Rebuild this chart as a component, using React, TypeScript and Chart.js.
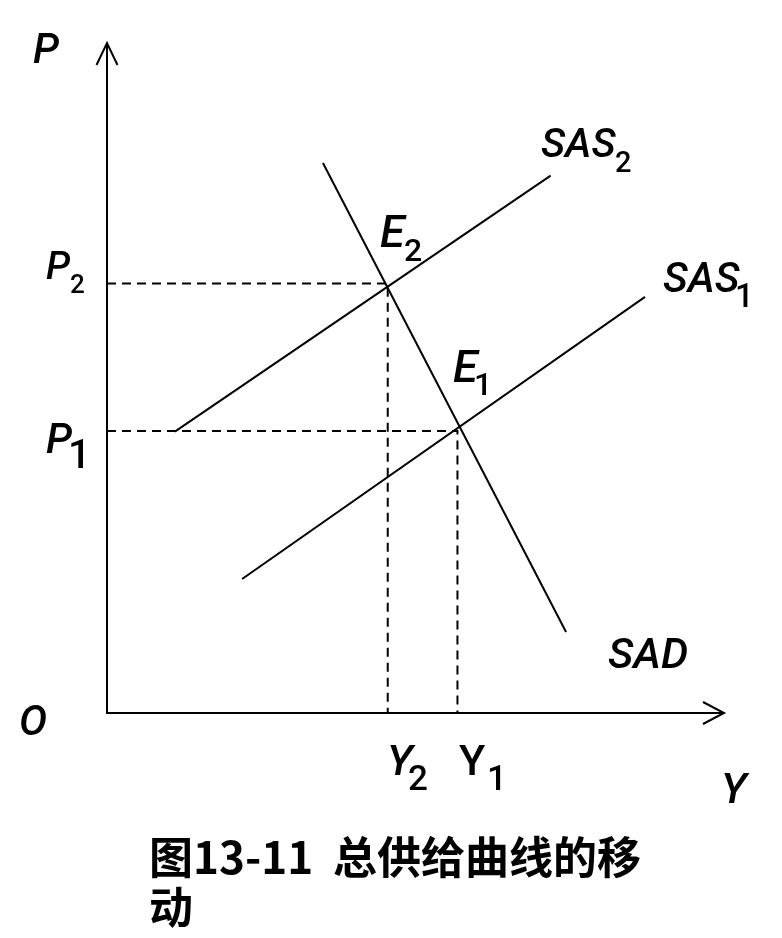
import React, { useEffect, useRef } from "react";
import { Chart, registerables } from "chart.js";

Chart.register(...registerables);

// Equilibrium levels (arbitrary units, axes run 0..100)
const P_LEVELS = [42.1, 64.1]; // P1, P2
const Y_LEVELS = [56.8, 45.5]; // Y1, Y2

// Curve endpoints [x, y]
const SAS1_X = [21.9, 87.2];
const SAS1_Y = [20.0, 62.1];
const SAS2_X = [11.0, 71.9];
const SAS2_Y = [42.0, 80.2];
const SAD_X = [35.0, 74.4];
const SAD_Y = [82.1, 12.1];

const TITLE = "图13-11  总供给曲线的移动";

const pts = (xs: number[], ys: number[]) => xs.map((x, i) => ({ x, y: ys[i] }));

const FONT = 'Roboto, "Liberation Sans", Arial, sans-serif';

const labelPlugin = {
  id: "econLabels",
  afterDatasetsDraw(chart: any) {
    const { ctx, chartArea } = chart;
    const { left, right, top, bottom } = chartArea;
    ctx.save();
    ctx.strokeStyle = "#000";
    ctx.lineWidth = 2;
    // axes
    ctx.beginPath();
    ctx.moveTo(left, top);
    ctx.lineTo(left, bottom);
    ctx.lineTo(right, bottom);
    ctx.stroke();
    // arrowheads
    ctx.beginPath();
    ctx.moveTo(left - 10.5, top + 22);
    ctx.lineTo(left, top);
    ctx.lineTo(left + 10.5, top + 22);
    ctx.moveTo(right - 21, bottom - 11);
    ctx.lineTo(right, bottom);
    ctx.lineTo(right - 21, bottom + 11);
    ctx.stroke();

    const o = 8;
    const txt = (s: string, x: number, y: number, size: number, italic: boolean) => {
      ctx.font = `${italic ? "italic " : ""}500 ${size}px ${FONT}`;
      ctx.fillStyle = "#000";
      ctx.textBaseline = "alphabetic";
      ctx.textAlign = "left";
      ctx.fillText(s, x - o, y - o);
    };
    txt("P", 33, 63, 42, true);
    txt("P", 46, 279, 39, true);
    txt("2", 70, 293, 26, false);
    txt("P", 46, 453, 42, true);
    txt("1", 68, 468, 40, false);
    txt("E", 380, 247, 45, true);
    txt("2", 404, 261, 32, false);
    txt("E", 453, 382, 45, true);
    txt("1", 474, 395, 32, false);
    txt("SAS", 541, 157, 41, true);
    txt("2", 615, 172, 29, false);
    txt("SAS", 663, 292, 42, true);
    txt("1", 735, 307, 33, false);
    txt("SAD", 608, 668, 43, true);
    txt("O", 19, 735, 42, true);
    txt("Y", 387, 775, 43, true);
    txt("2", 408, 790, 35, false);
    txt("Y", 459, 775, 43, false);
    txt("1", 487, 790, 35, false);
    txt("Y", 721, 803, 43, true);
    ctx.restore();
  },
};

export default function App() {
  const ref = useRef<HTMLCanvasElement | null>(null);
  useEffect(() => {
    if (!ref.current) return;
    const solid = { borderColor: "#000", borderWidth: 2, pointRadius: 0, showLine: true, fill: false };
    const dashed = { ...solid, borderDash: [9, 6] };
    const [p1, p2] = P_LEVELS;
    const [y1, y2] = Y_LEVELS;
    const chart = new Chart(ref.current, {
      type: "scatter",
      data: {
        datasets: [
          { ...dashed, data: [{ x: 0, y: p2 }, { x: y2, y: p2 }, { x: y2, y: 0 }] },
          { ...dashed, data: [{ x: 0, y: p1 }, { x: y1, y: p1 }, { x: y1, y: 0 }] },
          { ...solid, data: pts(SAS2_X, SAS2_Y) },
          { ...solid, data: pts(SAS1_X, SAS1_Y) },
          { ...solid, data: pts(SAD_X, SAD_Y) },
        ] as any,
      },
      options: {
        animation: false,
        responsive: false,
        layout: { padding: { left: 99, right: 50, top: 35, bottom: 117 } },
        scales: {
          x: { type: "linear", min: 0, max: 100, display: false },
          y: { type: "linear", min: 0, max: 100, display: false },
        },
        plugins: { legend: { display: false }, tooltip: { enabled: false } },
        elements: { line: { tension: 0 } },
      },
      plugins: [labelPlugin],
    });
    return () => chart.destroy();
  }, []);
  return (
    <div style={{ width: 766 }}>
      <canvas ref={ref} width={766} height={822} style={{ display: "block" }} />
      <div
        style={{
          marginLeft: 141,
          width: 505,
          fontFamily: '"Noto Sans CJK SC", sans-serif',
          fontWeight: 700,
          fontSize: 44,
          lineHeight: "50px",
          color: "#000",
          whiteSpace: "pre-wrap",
        }}
      >
        {TITLE}
      </div>
    </div>
  );
}
